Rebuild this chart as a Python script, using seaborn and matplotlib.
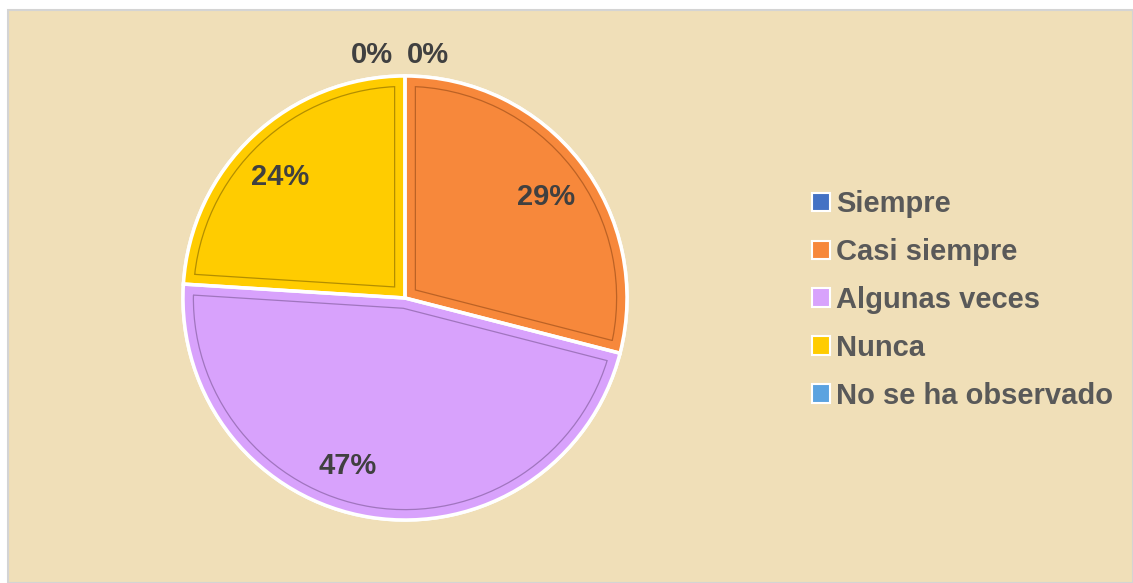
import numpy as np
import matplotlib
matplotlib.use("Agg")
import matplotlib.pyplot as plt
import matplotlib.patches as mpatches
import seaborn as sns

categories = ["Siempre", "Casi siempre", "Algunas veces", "Nunca", "No se ha observado"]
values = [0, 29, 47, 24, 0]
pct_labels = ["0%", "29%", "47%", "24%", "0%"]
colors = ["#4472C4", "#F7883B", "#D8A2FC", "#FFCC00", "#5BA3E0"]
edge_dark = ["#2F4F8A", "#A8561E", "#8E66AA", "#9A7A00", "#3F76A5"]

sns.set_theme(style="white")
plt.rcParams["font.family"] = ["Liberation Sans", "DejaVu Sans"]

W, H = 1133, 583
fig = plt.figure(figsize=(W / 100, H / 100), dpi=100)
fig.patch.set_facecolor("white")

# chart area background (parchment-like)
bg = mpatches.Rectangle((8 / W, 0), 1 - 8 / W, (H - 10) / H, transform=fig.transFigure,
                        facecolor="#F0DFB8", edgecolor="#D4D4D4", linewidth=1.5, zorder=-10)
fig.patches.append(bg)

ax = fig.add_axes([0, 0, 1, 1])
ax.set_facecolor("none")
ax.set_zorder(1)

R = 222.0
cx, cy = 405.0, 298.0

wedges, _ = ax.pie(values, colors=colors, startangle=90, counterclock=False,
                   radius=1.0,
                   wedgeprops=dict(edgecolor="white", linewidth=2.5))

# inset bevel outline: thick dark stroke clipped to the wedge, then covered by face stroke
px2pt = 0.72
for w, fc, ec in zip(wedges, colors, edge_dark):
    if w.theta2 - w.theta1 < 1e-6:
        continue
    outer = mpatches.Wedge((0, 0), 1.0, w.theta1, w.theta2, facecolor="none",
                           edgecolor=ec, linewidth=22 * px2pt, alpha=0.75,
                           joinstyle="miter", zorder=2)
    ax.add_patch(outer)
    outer.set_clip_path(w)
    cover = mpatches.Wedge((0, 0), 1.0, w.theta1, w.theta2, facecolor="none",
                           edgecolor=fc, linewidth=19.5 * px2pt,
                           joinstyle="miter", zorder=3)
    ax.add_patch(cover)
    cover.set_clip_path(w)
    rim = mpatches.Wedge((0, 0), 1.0, w.theta1, w.theta2, facecolor="none",
                         edgecolor="white", linewidth=2.5, zorder=4)
    ax.add_patch(rim)

ax.set_xlim(-cx / R, (W - cx) / R)
ax.set_ylim(-(H - cy) / R, cy / R)
ax.set_aspect("auto")
ax.axis("off")

txt_kw = dict(fontsize=21, fontweight="bold", color="#404040", ha="center", va="center",
              zorder=6)

# percentage labels
total = sum(values)
angle = 90.0
zero_x = [-0.149, 0.104]
zi = 0
label_offsets = {1: -1.5, 2: -10, 3: 2.0}
for i, (v, lab) in enumerate(zip(values, pct_labels)):
    span = 360.0 * v / total
    if v == 0:
        ax.text(zero_x[zi], 1.095, lab, **txt_kw)
        zi += 1
    else:
        mid = angle - span / 2 + label_offsets.get(i, 0)
        r = 0.79
        ax.text(r * np.cos(np.radians(mid)), r * np.sin(np.radians(mid)) - 0.012, lab, **txt_kw)
    angle -= span

# legend
handles = [mpatches.Patch(facecolor=c, edgecolor="white", linewidth=1.5) for c in colors]
leg = fig.legend(handles, categories, loc="center left", bbox_to_anchor=(812 / W, (H - 300) / H),
                 frameon=False, borderpad=0, borderaxespad=0,
                 handlelength=0.6, handleheight=0.6, handletextpad=0.22,
                 labelspacing=0.68, prop=dict(size=21, weight="bold"))
for t in leg.get_texts():
    t.set_color("#595959")

fig.savefig("out.png", dpi=100, facecolor=fig.get_facecolor())
